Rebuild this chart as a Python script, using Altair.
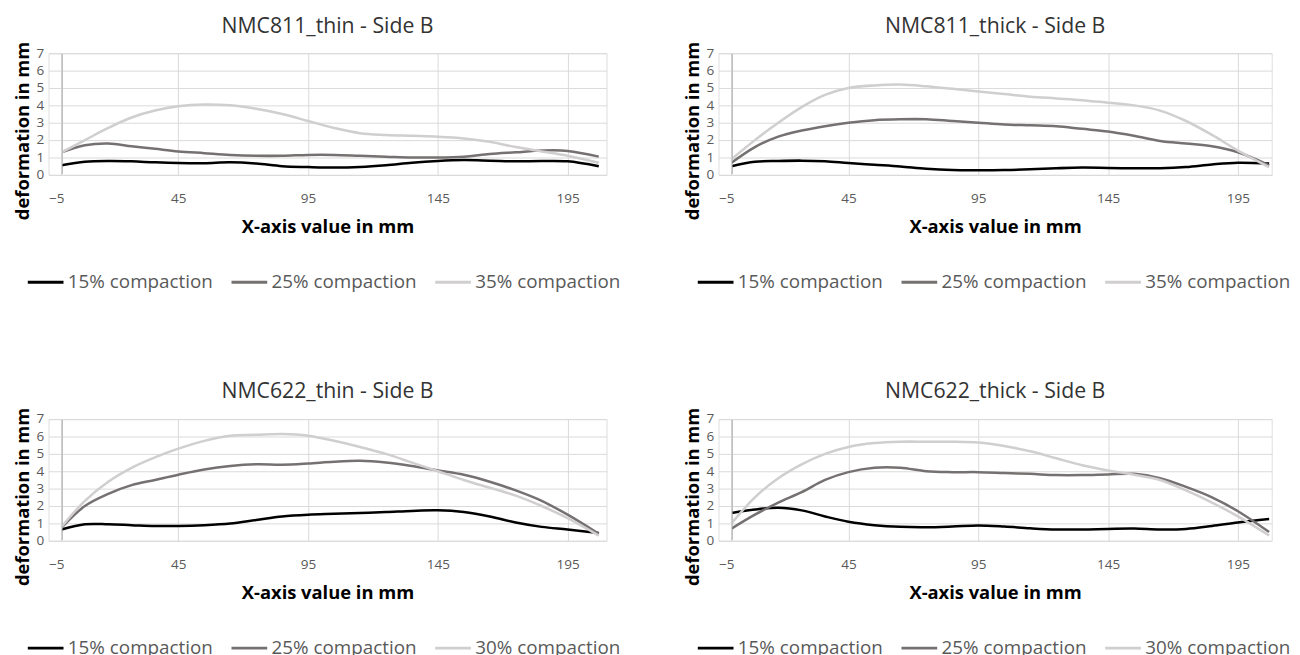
import altair as alt
import pandas as pd

# x positions (mm) of the sampled curve points
x_mm = [0, 9, 18, 27, 36, 45, 55, 65, 75, 85, 95, 105, 115, 125, 135, 145, 155, 165, 175, 185, 195, 207]

# NMC811_thin - Side B
thin811_15 = [0.55, 0.75, 0.80, 0.78, 0.72, 0.68, 0.67, 0.72, 0.65, 0.50, 0.45, 0.42, 0.45, 0.55, 0.70, 0.80, 0.85, 0.82, 0.78, 0.80, 0.78, 0.50]
thin811_25 = [1.30, 1.70, 1.80, 1.65, 1.50, 1.35, 1.25, 1.15, 1.10, 1.10, 1.15, 1.15, 1.10, 1.05, 1.00, 1.00, 1.05, 1.20, 1.30, 1.40, 1.38, 1.05]
thin811_35 = [1.30, 2.00, 2.70, 3.30, 3.70, 3.95, 4.05, 4.00, 3.80, 3.50, 3.10, 2.70, 2.40, 2.30, 2.25, 2.20, 2.10, 1.90, 1.60, 1.35, 1.10, 0.70]

# NMC811_thick - Side B
thick811_15 = [0.50, 0.75, 0.80, 0.82, 0.78, 0.68, 0.58, 0.48, 0.35, 0.28, 0.27, 0.28, 0.32, 0.38, 0.42, 0.40, 0.38, 0.38, 0.45, 0.60, 0.70, 0.65]
thick811_25 = [0.70, 1.60, 2.20, 2.55, 2.80, 3.00, 3.15, 3.20, 3.20, 3.10, 3.00, 2.90, 2.85, 2.80, 2.65, 2.50, 2.25, 1.95, 1.80, 1.65, 1.30, 0.55]
thick811_35 = [0.90, 2.00, 3.00, 3.90, 4.60, 5.00, 5.15, 5.20, 5.10, 4.95, 4.80, 4.65, 4.50, 4.40, 4.30, 4.15, 4.00, 3.70, 3.10, 2.30, 1.40, 0.45]

# NMC622_thin - Side B
thin622_15 = [0.65, 0.95, 0.95, 0.90, 0.85, 0.85, 0.90, 1.00, 1.20, 1.40, 1.50, 1.55, 1.60, 1.65, 1.72, 1.75, 1.65, 1.40, 1.05, 0.80, 0.65, 0.45]
thin622_25 = [0.75, 2.00, 2.70, 3.20, 3.50, 3.80, 4.10, 4.30, 4.40, 4.38, 4.45, 4.55, 4.60, 4.50, 4.30, 4.05, 3.80, 3.40, 2.90, 2.30, 1.50, 0.40]
thin622_30 = [0.80, 2.30, 3.40, 4.20, 4.80, 5.30, 5.75, 6.05, 6.10, 6.15, 6.05, 5.75, 5.40, 5.00, 4.50, 4.00, 3.50, 3.05, 2.60, 2.00, 1.30, 0.30]

# NMC622_thick - Side B
thick622_15 = [1.60, 1.80, 1.90, 1.75, 1.40, 1.10, 0.90, 0.80, 0.78, 0.82, 0.88, 0.82, 0.72, 0.65, 0.65, 0.68, 0.70, 0.65, 0.68, 0.85, 1.05, 1.25]
thick622_25 = [0.70, 1.50, 2.20, 2.80, 3.50, 3.95, 4.20, 4.20, 4.00, 3.95, 3.95, 3.90, 3.85, 3.78, 3.78, 3.82, 3.85, 3.60, 3.10, 2.50, 1.70, 0.50]
thick622_30 = [1.00, 2.50, 3.60, 4.40, 5.00, 5.40, 5.62, 5.70, 5.70, 5.70, 5.65, 5.45, 5.15, 4.75, 4.35, 4.05, 3.80, 3.50, 2.90, 2.20, 1.40, 0.30]

x_ticks = [-5, 45, 95, 145, 195]
y_ticks = [0, 1, 2, 3, 4, 5, 6, 7]
line_colors = ["#000000", "#767171", "#d0cece"]
FONT = "Open Sans"
PLOT_H = 126
X_MIN = -5


def panel(title, names, series, xmax, width):
    rows = []
    for name, vals in zip(names, series):
        for xv, yv in zip(x_mm, vals):
            rows.append({"x": xv, "v": yv, "series": name})
    df = pd.DataFrame(rows)

    x_scale = alt.Scale(domain=[X_MIN, xmax], nice=False, zero=False)
    y_scale = alt.Scale(domain=[0, 7], nice=False)
    x_axis = alt.Axis(values=x_ticks, title="X-axis value in mm", domain=False, ticks=False,
                      labelPadding=18, titlePadding=13, labelFontSize=14, labelColor="#595959",
                      titleFontSize=19, titleFont=FONT, labelFont=FONT, titleColor="#000000",
                      titleFontWeight="bold",
                      gridColor=alt.condition("datum.value == -5", alt.value("transparent"),
                                              alt.value("#d9d9d9")))
    y_axis = alt.Axis(values=y_ticks, title="deformation in mm", domain=False, ticks=False,
                      labelPadding=5, titlePadding=4, labelFontSize=14, labelColor="#595959",
                      titleFontSize=19, titleFont=FONT, labelFont=FONT, titleColor="#000000",
                      titleFontWeight="bold", titleY=80, gridColor="#d9d9d9")

    lines = alt.Chart(df).mark_line(interpolate="catmull-rom", strokeWidth=2.6).encode(
        x=alt.X("x:Q", scale=x_scale, axis=x_axis),
        y=alt.Y("v:Q", scale=y_scale, axis=y_axis),
        color=alt.Color("series:N",
                        scale=alt.Scale(domain=names, range=line_colors),
                        sort=names,
                        legend=alt.Legend(orient="none", legendX=-23, legendY=217,
                                          direction="horizontal", title=None,
                                          symbolType="stroke", symbolSize=1369, symbolStrokeWidth=3,
                                          labelFontSize=19.5, labelFont=FONT, labelColor="#595959",
                                          labelOffset=3, columnPadding=12)),
    )

    # vertical axis line crossing at x = 0
    axis_line = alt.Chart(df).mark_rule(color="#d0d0d0", strokeWidth=1).encode(
        x=alt.XDatum(0, type="quantitative", scale=x_scale, axis=x_axis),
        y=alt.YDatum(0, type="quantitative", scale=y_scale, axis=y_axis),
        y2=alt.datum(7),
    )

    return alt.layer(lines, axis_line).properties(
        width=width, height=PLOT_H,
        title=alt.TitleParams(title, fontSize=22, font=FONT, fontWeight="normal", color="#333333",
                              anchor="middle", offset=4),
    )


p1 = panel("NMC811_thin - Side B", ["15% compaction", "25% compaction", "35% compaction"],
           [thin811_15, thin811_25, thin811_35], 210, 578)
p2 = panel("NMC811_thick - Side B", ["15% compaction", "25% compaction", "35% compaction"],
           [thick811_15, thick811_25, thick811_35], 208, 573)
p3 = panel("NMC622_thin - Side B", ["15% compaction", "25% compaction", "30% compaction"],
           [thin622_15, thin622_25, thin622_30], 210, 578)
p4 = panel("NMC622_thick - Side B", ["15% compaction", "25% compaction", "30% compaction"],
           [thick622_15, thick622_25, thick622_30], 208, 573)

row1 = alt.hconcat(p1, p2, spacing=63).resolve_scale(color="independent", x="independent", y="independent")
row2 = alt.hconcat(p3, p4, spacing=63).resolve_scale(color="independent", x="independent", y="independent")

chart = alt.vconcat(row1, row2, spacing=91).resolve_scale(
    color="independent", x="independent", y="independent"
).configure_view(stroke=None).configure(
    background="white", padding={"left": 5, "top": -5, "right": 0, "bottom": 0}
)

chart.save("out.html", embed_options={"renderer": "svg", "actions": False})
